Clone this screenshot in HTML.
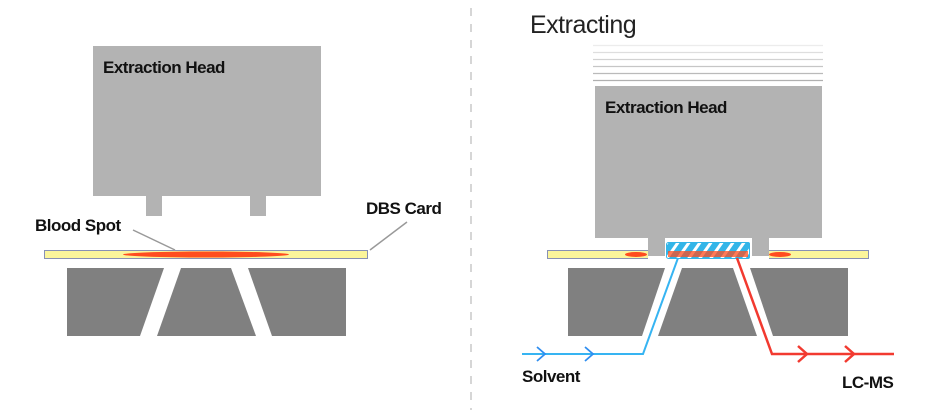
<!DOCTYPE html>
<html><head><meta charset="utf-8"><style>
html,body{margin:0;padding:0;background:#fff;}
svg{display:block;}
text{font-family:"Liberation Sans",sans-serif;}
</style></head><body>
<svg width="944" height="416" viewBox="0 0 944 416" xmlns="http://www.w3.org/2000/svg">
<defs>
<pattern id="hatch" patternUnits="userSpaceOnUse" width="9" height="9" patternTransform="rotate(35)">
<rect width="9" height="9" fill="#33b5e8"/>
<rect x="0" width="3" height="9" fill="#fff"/>
</pattern>
</defs>
<line x1="471" y1="8" x2="471" y2="410" stroke="#c8c8c8" stroke-width="1.5" stroke-dasharray="8,8"/>

<!-- LEFT -->
<rect x="93" y="46" width="228" height="150" fill="#b3b3b3"/>
<rect x="146" y="195" width="16" height="21" fill="#b3b3b3"/>
<rect x="250" y="195" width="16" height="21" fill="#b3b3b3"/>
<text x="103" y="73" font-size="17" font-weight="bold" fill="#111" letter-spacing="-0.5">Extraction Head</text>
<rect x="44.5" y="250.5" width="323" height="8" fill="#fbf59b" stroke="#8891b5" stroke-width="1"/>
<ellipse cx="206" cy="254.5" rx="83" ry="3" fill="#ff4d1f"/>
<polygon points="67,268 164,268 140,336 67,336" fill="#808080"/>
<polygon points="181,268 231,268 256,336 157,336" fill="#808080"/>
<polygon points="248,268 346,268 346,336 272,336" fill="#808080"/>
<line x1="133" y1="230" x2="175" y2="250" stroke="#999" stroke-width="1.5"/>
<line x1="407" y1="222" x2="370" y2="250" stroke="#999" stroke-width="1.5"/>
<text x="35" y="231" font-size="17" font-weight="bold" fill="#111" letter-spacing="-0.5">Blood Spot</text>
<text x="366" y="214" font-size="17" font-weight="bold" fill="#111" letter-spacing="-0.5">DBS Card</text>

<!-- RIGHT -->
<text x="530" y="33" font-size="25" fill="#222" letter-spacing="-0.5">Extracting</text>
<g stroke-width="1.2">
<line x1="593" y1="45.5" x2="823" y2="45.5" stroke="#ececec"/>
<line x1="593" y1="52.5" x2="823" y2="52.5" stroke="#dedede"/>
<line x1="593" y1="59.5" x2="823" y2="59.5" stroke="#d2d2d2"/>
<line x1="593" y1="66.5" x2="823" y2="66.5" stroke="#c6c6c6"/>
<line x1="593" y1="73.5" x2="823" y2="73.5" stroke="#bababa"/>
<line x1="593" y1="80.5" x2="823" y2="80.5" stroke="#b0b0b0"/>
</g>
<rect x="595" y="86" width="227" height="152" fill="#b3b3b3"/>
<rect x="648" y="237" width="17" height="19" fill="#b3b3b3"/>
<rect x="752" y="237" width="17" height="19" fill="#b3b3b3"/>
<text x="605" y="113" font-size="17" font-weight="bold" fill="#111" letter-spacing="-0.5">Extraction Head</text>
<rect x="547.5" y="250.5" width="321" height="8" fill="#fbf59b" stroke="#8891b5" stroke-width="1"/>
<rect x="648" y="250" width="21" height="9" fill="#fff"/>
<rect x="748" y="250" width="21" height="9" fill="#fff"/>
<rect x="648" y="250" width="17" height="6" fill="#b3b3b3"/>
<rect x="752" y="250" width="17" height="6" fill="#b3b3b3"/>
<ellipse cx="636" cy="254.5" rx="11" ry="2.5" fill="#ff4d1f"/>
<ellipse cx="780" cy="254.5" rx="11" ry="2.5" fill="#ff4d1f"/>
<rect x="666" y="242" width="84" height="17" rx="2" fill="url(#hatch)"/>
<rect x="668" y="251" width="80" height="6" fill="#ff4d1f" opacity="0.75"/>
<rect x="666.5" y="242.5" width="83" height="16" rx="2" fill="none" stroke="#33b5e8" stroke-width="1"/>
<polygon points="568,268 665,268 642,336 568,336" fill="#808080"/>
<polygon points="682,268 733,268 757,336 658,336" fill="#808080"/>
<polygon points="750,268 848,268 848,336 773,336" fill="#808080"/>
<polyline points="522,354 643,354 678,258" fill="none" stroke="#36b4f2" stroke-width="2"/>
<polyline points="537,347 545,354 537,361" fill="none" stroke="#2f8ef0" stroke-width="1.8"/>
<polyline points="585,347 593,354 585,361" fill="none" stroke="#2f8ef0" stroke-width="1.8"/>
<polyline points="737,258 772,354 894,354" fill="none" stroke="#f23a30" stroke-width="2.5"/>
<polyline points="798,346 807,354 798,362" fill="none" stroke="#f23a30" stroke-width="2.5"/>
<polyline points="845,346 854,354 845,362" fill="none" stroke="#f23a30" stroke-width="2.5"/>
<text x="522" y="382" font-size="17" font-weight="bold" fill="#111" letter-spacing="-0.5">Solvent</text>
<text x="842" y="388" font-size="17" font-weight="bold" fill="#111" letter-spacing="-0.5">LC-MS</text>
</svg>
</body></html>
